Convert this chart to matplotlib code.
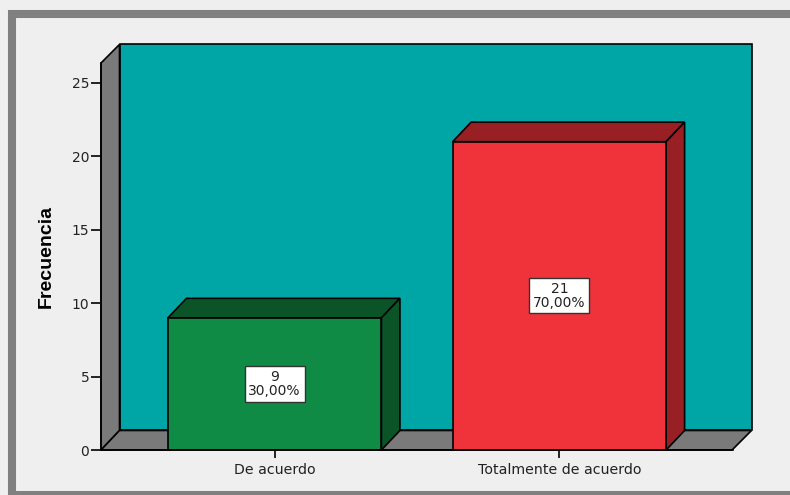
import matplotlib.pyplot as plt
from matplotlib.patches import Polygon, Rectangle

plt.rcParams["font.family"] = "DejaVu Sans"

categories = ["De acuerdo", "Totalmente de acuerdo"]
counts = [9, 21]
percents = ["30,00%", "70,00%"]
yticks = [0, 5, 10, 15, 20, 25]

front_colors = ["#108B45", "#F0323A"]
dark_colors = ["#0A5427", "#981F24"]

# 3D look: depth offset in data units, bar width, axis extents
DX, DY = 0.065, 1.33
BAR_W = 0.75
XMIN, XMAX = -0.61, 1.61
YTOP = 26.36

W, H = 790, 495
fig = plt.figure(figsize=(W / 100, H / 100), dpi=100, facecolor="#EFEFEF")
ax = fig.add_axes([101 / W, 45 / H, 632 / W, 387 / H])
ax.set_facecolor("none")
ax.set_xlim(XMIN, XMAX)
ax.set_ylim(0, YTOP)

# outer frame (8 px grey band)
fig.patches.append(Rectangle((12 / W, 0), 1.1, 481 / H, transform=fig.transFigure,
                             fill=False, edgecolor="#808080", linewidth=5.8, zorder=0))


def poly(pts, color, z):
    ax.add_patch(Polygon(pts, closed=True, facecolor=color, edgecolor="black",
                         linewidth=1.2, zorder=z, clip_on=False))


# back wall, side wall and floor
poly([(XMIN + DX, DY), (XMAX + DX, DY), (XMAX + DX, YTOP + DY * 0.95),
      (XMIN + DX, YTOP + DY * 0.95)], "#00A6A6", 1)
poly([(XMIN, 0), (XMIN + DX, DY), (XMIN + DX, YTOP + DY * 0.95), (XMIN, YTOP)], "#7A7A7A", 2)
poly([(XMIN, 0), (XMAX - DX * 0.05, 0), (XMAX + DX, DY), (XMIN + DX, DY)], "#7A7A7A", 2)

for i, (n, pct) in enumerate(zip(counts, percents)):
    x0, x1 = i - BAR_W / 2, i + BAR_W / 2
    poly([(x0, n), (x1, n), (x1 + DX, n + DY), (x0 + DX, n + DY)], dark_colors[i], 3)
    poly([(x1, 0), (x1 + DX, DY), (x1 + DX, n + DY), (x1, n)], dark_colors[i], 3)
    poly([(x0, 0), (x1, 0), (x1, n), (x0, n)], front_colors[i], 4)
    ax.text(i, n / 2, f"{n}\n{pct}", ha="center", va="center", fontsize=10,
            color="#222222", linespacing=0.95, zorder=5,
            bbox=dict(boxstyle="square,pad=0.28", facecolor="white",
                      edgecolor="#333333", linewidth=1))

ax.set_xticks(range(len(categories)))
ax.set_xticklabels(categories, fontsize=10.2, color="#222222")
ax.set_yticks(yticks)
ax.set_yticklabels([str(v) for v in yticks], fontsize=10, color="#222222")
ax.tick_params(axis="y", length=7.5, width=1.2, pad=1)
ax.tick_params(axis="x", length=6, width=1.2, pad=3)

for side in ["top", "right"]:
    ax.spines[side].set_visible(False)
ax.spines["left"].set_linewidth(1.2)
ax.spines["bottom"].set_linewidth(1.2)
ax.spines["left"].set_zorder(6)
ax.spines["bottom"].set_zorder(6)

ax.set_ylabel("Frecuencia", fontsize=14, fontweight="bold",
              family="Liberation Sans", labelpad=12)

plt.savefig("out.png", dpi=100, facecolor=fig.get_facecolor())
